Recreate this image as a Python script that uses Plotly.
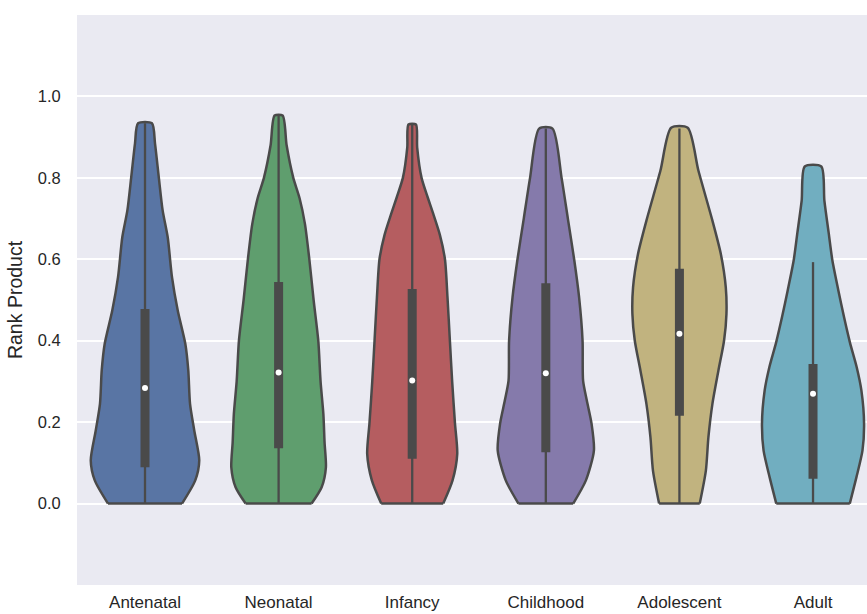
import plotly.graph_objects as go

# Stage categories along the x axis
stages = ["Antenatal", "Neonatal", "Infancy", "Childhood", "Adolescent", "Adult"]

# Kernel-density outline of each stage: rank-product levels and the
# half-width of the violin at each level (in category units)
antenatal_y = [0.0, 0.057, 0.106, 0.179, 0.245, 0.327, 0.392, 0.474, 0.556, 0.654, 0.72, 0.802, 0.884, 0.934]
antenatal_w = [0.277, 0.376, 0.406, 0.369, 0.337, 0.324, 0.302, 0.245, 0.202, 0.17, 0.132, 0.103, 0.075, 0.052]

neonatal_y = [0.0, 0.04, 0.089, 0.15, 0.22, 0.30, 0.40, 0.50, 0.60, 0.687, 0.75, 0.80, 0.88, 0.953]
neonatal_w = [0.247, 0.322, 0.354, 0.344, 0.335, 0.314, 0.297, 0.262, 0.230, 0.197, 0.157, 0.110, 0.06, 0.03]

infancy_y = [0.0, 0.057, 0.122, 0.197, 0.30, 0.40, 0.507, 0.60, 0.66, 0.712, 0.753, 0.80, 0.875, 0.931]
infancy_w = [0.232, 0.302, 0.337, 0.320, 0.299, 0.282, 0.264, 0.245, 0.207, 0.157, 0.115, 0.070, 0.037, 0.028]

childhood_y = [0.0, 0.057, 0.13, 0.197, 0.253, 0.302, 0.40, 0.507, 0.60, 0.70, 0.80, 0.921]
childhood_w = [0.205, 0.30, 0.36, 0.342, 0.307, 0.279, 0.275, 0.249, 0.212, 0.165, 0.118, 0.05]

adolescent_y = [0.0, 0.081, 0.163, 0.245, 0.327, 0.40, 0.466, 0.531, 0.613, 0.695, 0.818, 0.923]
adolescent_w = [0.152, 0.198, 0.217, 0.247, 0.292, 0.334, 0.352, 0.347, 0.31, 0.247, 0.142, 0.062]

adult_y = [0.0, 0.065, 0.130, 0.196, 0.278, 0.335, 0.396, 0.458, 0.523, 0.597, 0.663, 0.744, 0.828]
adult_w = [0.275, 0.325, 0.37, 0.382, 0.362, 0.327, 0.276, 0.232, 0.19, 0.145, 0.118, 0.085, 0.062]

# Box summaries: lower whisker, first quartile, median, third quartile, upper whisker
whisker_low = [0.0, 0.0, 0.0, 0.0, 0.0, 0.0]
q1 = [0.089, 0.136, 0.110, 0.126, 0.216, 0.061]
median = [0.284, 0.322, 0.302, 0.320, 0.417, 0.270]
q3 = [0.478, 0.544, 0.527, 0.541, 0.577, 0.343]
whisker_high = [0.934, 0.953, 0.931, 0.921, 0.921, 0.593]

profiles = [
    (antenatal_y, antenatal_w),
    (neonatal_y, neonatal_w),
    (infancy_y, infancy_w),
    (childhood_y, childhood_w),
    (adolescent_y, adolescent_w),
    (adult_y, adult_w),
]

fills = ["#5975A4", "#5F9E6E", "#B55D60", "#857AAB", "#C1B37F", "#71AEC0"]
edge = "#4A4A4A"
font_family = "Liberation Sans, Arial, sans-serif"

fig = go.Figure()

for i, (ys, ws) in enumerate(profiles):
    # outline: up the left side, down the right side
    xs = [i - w for w in ws] + [i + w for w in reversed(ws)]
    yy = list(ys) + list(reversed(ys))
    fig.add_trace(go.Scatter(
        x=xs, y=yy, mode="lines", fill="toself", fillcolor=fills[i],
        line=dict(color=edge, width=2.5, shape="spline", smoothing=0.7),
        hoverinfo="skip", showlegend=False,
    ))
    # flat bottom edge where the density is cut at the data minimum
    fig.add_trace(go.Scatter(
        x=[i - ws[0], i + ws[0]], y=[ys[0], ys[0]], mode="lines",
        line=dict(color=edge, width=2.5), hoverinfo="skip", showlegend=False,
    ))
    # whisker
    fig.add_trace(go.Scatter(
        x=[i, i], y=[whisker_low[i], whisker_high[i]], mode="lines",
        line=dict(color=edge, width=2.3), hoverinfo="skip", showlegend=False,
    ))
    # interquartile box
    fig.add_trace(go.Scatter(
        x=[i, i], y=[q1[i], q3[i]], mode="lines",
        line=dict(color=edge, width=9), hoverinfo="skip", showlegend=False,
    ))
    # median point
    fig.add_trace(go.Scatter(
        x=[i], y=[median[i]], mode="markers",
        marker=dict(color="white", size=6, line=dict(width=0)),
        hoverinfo="skip", showlegend=False,
    ))

fig.update_layout(
    width=867, height=614,
    margin=dict(l=77, r=0, t=15, b=29),
    paper_bgcolor="white",
    plot_bgcolor="#EAEAF2",
    font=dict(family=font_family, color="#262626", size=16),
    xaxis=dict(
        range=[-0.509, 5.404], automargin=False,
        tickmode="array", tickvals=list(range(len(stages))), ticktext=stages,
        showgrid=False, zeroline=False, showline=False,
        ticks="outside", ticklen=2, tickcolor="rgba(0,0,0,0)",
        tickfont=dict(size=17),
    ),
    yaxis=dict(
        range=[-0.2, 1.2], automargin=False,
        tickmode="array", tickvals=[0.0, 0.2, 0.4, 0.6, 0.8, 1.0],
        tickformat=".1f",
        showgrid=True, gridcolor="white", gridwidth=1.5,
        zeroline=False, showline=False,
        ticks="outside", ticklen=12, tickcolor="rgba(0,0,0,0)",
        tickfont=dict(size=16.5),
        title=dict(text="Rank Product", font=dict(size=19.5), standoff=9),
    ),
)

fig.write_html("out.html")
